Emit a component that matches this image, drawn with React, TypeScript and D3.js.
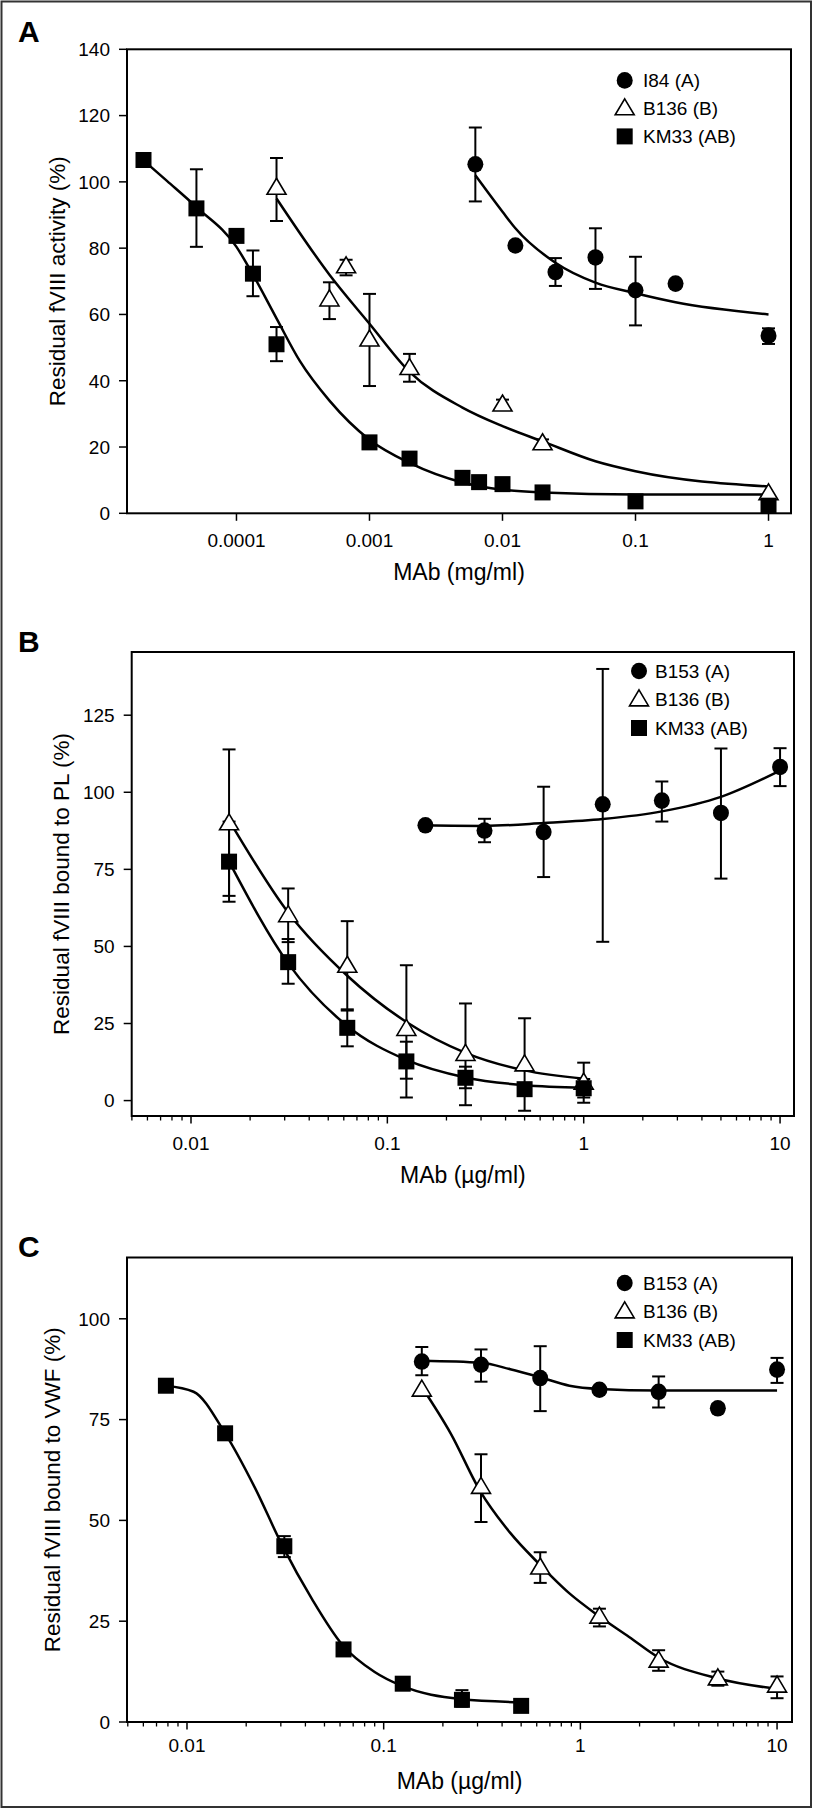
import * as d3 from 'd3';

const FONT = "'Liberation Sans', Arial, Helvetica, sans-serif";

// ---------- Panel A : residual fVIII activity (%) vs MAb (mg/ml) ----------
const aI84X = [0.00625, 0.0125, 0.025, 0.05, 0.1, 0.2, 1];
const aI84Y = [105.3, 80.8, 72.8, 77.2, 67.3, 69.3, 53.6];
const aI84Lo = [94.1, null, 68.6, 67.7, 56.7, null, 51.1];
const aI84Hi = [116.4, null, 77.0, 86.0, 77.4, null, 55.8];
const aI84FitX = [0.00625, 0.01, 0.0125, 0.025, 0.05, 0.1, 0.2, 1];
const aI84FitY = [102, 91, 86, 75.6, 69.6, 66.4, 63.7, 60];

const aB136X = [0.0002, 0.0005, 0.000667, 0.001, 0.002, 0.01, 0.02, 1];
const aB136Y = [98.2, 64.5, 74.5, 52.4, 43.8, 32.8, 21.1, 6.0];
const aB136Lo = [88.2, 58.6, 71.8, 38.4, 39.7, 31.3, 20.0, null];
const aB136Hi = [107.2, 69.7, 76.5, 66.2, 48.1, 34.3, 22.3, null];
const aB136FitX = [0.0002, 0.0005, 0.001, 0.002, 0.005, 0.01, 0.02, 0.05, 0.1, 1];
const aB136FitY = [95, 72, 57.2, 42.7, 31.9, 26.3, 21.7, 15.7, 12.7, 8.1];

const aKM33X = [0.00002, 0.00005, 0.0001, 0.000133, 0.0002, 0.001, 0.002, 0.005, 0.00667, 0.01, 0.02, 0.1, 1];
const aKM33Y = [106.6, 92.0, 83.7, 72.3, 51.0, 21.4, 16.5, 10.7, 9.4, 8.8, 6.3, 3.6, 2.3];
const aKM33Lo = [105.5, 80.4, null, 65.5, 45.9, null, null, null, null, null, null, null, null];
const aKM33Hi = [108.2, 103.8, null, 79.3, 56.2, null, null, null, null, null, null, null, null];
const aKM33FitX = [0.00002, 0.00003, 0.00005, 0.0001, 0.000133, 0.0002, 0.0003, 0.0005, 0.001, 0.002, 0.005, 0.01, 0.02, 0.1, 1];
const aKM33FitY = [106.5, 100.3, 92.4, 80.4, 72, 58.8, 45.9, 34, 22.2, 15.2, 9.3, 7.1, 6.3, 5.7, 5.7];

const aXTicks = [0.0001, 0.001, 0.01, 0.1, 1];
const aXLabels = ['0.0001', '0.001', '0.01', '0.1', '1'];
const aYTicks = [0, 20, 40, 60, 80, 100, 120, 140];

// ---------- Panel B : residual fVIII bound to PL (%) vs MAb (µg/ml) ----------
const bB153X = [0.15625, 0.3125, 0.625, 1.25, 2.5, 5, 10];
const bB153Y = [89.3, 87.6, 87.1, 96.1, 97.3, 93.3, 108.2];
const bB153Lo = [null, 83.8, 72.5, 51.5, 90.5, 72.0, 102.0];
const bB153Hi = [null, 91.4, 101.8, 140.0, 103.5, 114.2, 114.3];
const bB153FitX = [0.15625, 0.3125, 0.625, 1.25, 2.5, 5, 10];
const bB153FitY = [89.3, 89.1, 90.0, 91.3, 93.8, 98.5, 107];

const bB136X = [0.015625, 0.03125, 0.0625, 0.125, 0.25, 0.5, 1];
const bB136Y = [89.9, 60.1, 43.7, 23.2, 15.1, 11.7, 5.8];
const bB136Lo = [66.4, 51.4, 29.2, 1.0, -1.5, -3.3, -0.7];
const bB136Hi = [113.9, 68.8, 58.2, 43.9, 31.5, 26.7, 12.3];
const bB136FitX = [0.015625, 0.03125, 0.0625, 0.125, 0.25, 0.5, 1];
const bB136FitY = [90.9, 61, 40.5, 25.5, 15.5, 9.8, 7.1];

const bKM33X = [0.015625, 0.03125, 0.0625, 0.125, 0.25, 0.5, 1];
const bKM33Y = [77.5, 44.9, 23.6, 12.7, 7.4, 3.7, 4.0];
const bKM33Lo = [64.5, 37.9, 17.6, 7.1, 4.0, 2.0, 1.0];
const bKM33Hi = [90.5, 52.4, 29.6, 19.1, 11.0, 5.5, 7.0];
const bKM33FitX = [0.015625, 0.03125, 0.0625, 0.125, 0.25, 0.5, 1];
const bKM33FitY = [77.5, 44.5, 24.2, 13.2, 7.5, 5.0, 4.2];

const bXTicks = [0.01, 0.1, 1, 10];
const bXLabels = ['0.01', '0.1', '1', '10'];
const bYTicks = [0, 25, 50, 75, 100, 125];

// ---------- Panel C : residual fVIII bound to VWF (%) vs MAb (µg/ml) ----------
const cB153X = [0.15625, 0.3125, 0.625, 1.25, 2.5, 5, 10];
const cB153Y = [89.4, 88.6, 85.3, 82.4, 81.9, 77.8, 87.4];
const cB153Lo = [86.0, 84.4, 77.1, null, 78.0, 76.8, 84.1];
const cB153Hi = [93.0, 92.4, 93.2, null, 85.7, 78.8, 90.3];
const cB153FitX = [0.15625, 0.3125, 0.44, 0.625, 0.88, 1.25, 2.5, 10];
const cB153FitY = [89.6, 89.1, 87.5, 85.5, 83.4, 82.6, 82.2, 82.2];

const cB136X = [0.15625, 0.3125, 0.625, 1.25, 2.5, 5, 10];
const cB136Y = [82.4, 58.3, 38.3, 26.1, 15.2, 10.8, 9.0];
const cB136Lo = [null, 49.6, 34.5, 23.7, 12.7, 9.0, 5.9];
const cB136Hi = [null, 66.4, 42.1, 28.1, 17.8, 12.5, 11.3];
const cB136FitX = [0.15625, 0.219, 0.31, 0.44, 0.62, 0.88, 1.24, 1.77, 2.5, 5, 10];
const cB136FitY = [83.1, 71.6, 57.2, 46.9, 39.1, 31.9, 26.3, 21.1, 16.0, 10.8, 8.2];

const cKM33X = [0.0078125, 0.015625, 0.03125, 0.0625, 0.125, 0.25, 0.5];
const cKM33Y = [83.4, 71.6, 43.6, 18.0, 9.5, 5.5, 4.0];
const cKM33Lo = [null, null, 40.9, null, null, 3.8, null];
const cKM33Hi = [null, null, 46.1, null, null, 7.9, null];
const cKM33FitX = [0.0078125, 0.0108, 0.015625, 0.0221, 0.0305, 0.0433, 0.0617, 0.09, 0.123, 0.247, 0.49];
const cKM33FitY = [83.4, 81.9, 71.6, 58.2, 43.8, 30.4, 19.1, 12.4, 9.0, 5.7, 4.9];

const cXTicks = [0.01, 0.1, 1, 10];
const cXLabels = ['0.01', '0.1', '1', '10'];
const cYTicks = [0, 25, 50, 75, 100];

type Shape = 'circle' | 'triangle' | 'square';
type Series = {
  name: string; shape: Shape;
  x: number[]; y: number[]; lo: (number | null)[]; hi: (number | null)[];
  fitX: number[]; fitY: number[];
};

const panels = [
  {
    letter: 'A', letterY: 42,
    box: { left: 127, right: 791, top: 49.3, bottom: 513.3 },
    xDomain: [Math.pow(10, -4.823), Math.pow(10, 0.169)], yDomain: [0, 140],
    xTicks: aXTicks, xLabels: aXLabels, yTicks: aYTicks, minor: false,
    xTitle: 'MAb (mg/ml)', yTitle: 'Residual fVIII activity (%)', yTitleX: 57,
    tickLabelY: 547, xTitleY: 580,
    legend: { x: 624.7, textX: 643, y: 80.4, dy: 28 },
    series: [
      { name: 'I84 (A)', shape: 'circle', x: aI84X, y: aI84Y, lo: aI84Lo, hi: aI84Hi, fitX: aI84FitX, fitY: aI84FitY },
      { name: 'B136 (B)', shape: 'triangle', x: aB136X, y: aB136Y, lo: aB136Lo, hi: aB136Hi, fitX: aB136FitX, fitY: aB136FitY },
      { name: 'KM33 (AB)', shape: 'square', x: aKM33X, y: aKM33Y, lo: aKM33Lo, hi: aKM33Hi, fitX: aKM33FitX, fitY: aKM33FitY },
    ] as Series[],
  },
  {
    letter: 'B', letterY: 652,
    box: { left: 131.7, right: 794, top: 652, bottom: 1116 },
    xDomain: [Math.pow(10, -2.302), Math.pow(10, 1.071)], yDomain: [-5, 145.5],
    xTicks: bXTicks, xLabels: bXLabels, yTicks: bYTicks, minor: true,
    xTitle: 'MAb (\u00b5g/ml)', yTitle: 'Residual fVIII bound to PL (%)', yTitleX: 61,
    tickLabelY: 1150, xTitleY: 1183,
    legend: { x: 639, textX: 655, y: 671, dy: 28.5 },
    series: [
      { name: 'B153 (A)', shape: 'circle', x: bB153X, y: bB153Y, lo: bB153Lo, hi: bB153Hi, fitX: bB153FitX, fitY: bB153FitY },
      { name: 'B136 (B)', shape: 'triangle', x: bB136X, y: bB136Y, lo: bB136Lo, hi: bB136Hi, fitX: bB136FitX, fitY: bB136FitY },
      { name: 'KM33 (AB)', shape: 'square', x: bKM33X, y: bKM33Y, lo: bKM33Lo, hi: bKM33Hi, fitX: bKM33FitX, fitY: bKM33FitY },
    ] as Series[],
  },
  {
    letter: 'C', letterY: 1257,
    box: { left: 127, right: 792, top: 1257.5, bottom: 1722 },
    xDomain: [Math.pow(10, -2.305), Math.pow(10, 1.076)], yDomain: [0, 115.2],
    xTicks: cXTicks, xLabels: cXLabels, yTicks: cYTicks, minor: true,
    xTitle: 'MAb (\u00b5g/ml)', yTitle: 'Residual fVIII bound to VWF (%)', yTitleX: 52,
    tickLabelY: 1752, xTitleY: 1789,
    legend: { x: 624.7, textX: 643, y: 1283, dy: 28.5 },
    series: [
      { name: 'B153 (A)', shape: 'circle', x: cB153X, y: cB153Y, lo: cB153Lo, hi: cB153Hi, fitX: cB153FitX, fitY: cB153FitY },
      { name: 'B136 (B)', shape: 'triangle', x: cB136X, y: cB136Y, lo: cB136Lo, hi: cB136Hi, fitX: cB136FitX, fitY: cB136FitY },
      { name: 'KM33 (AB)', shape: 'square', x: cKM33X, y: cKM33Y, lo: cKM33Lo, hi: cKM33Hi, fitX: cKM33FitX, fitY: cKM33FitY },
    ] as Series[],
  },
];

function Marker({ shape, cx, cy }: { shape: Shape; cx: number; cy: number }) {
  if (shape === 'circle') return <ellipse cx={cx} cy={cy} rx={8} ry={8.3} fill="#000" />;
  if (shape === 'square') return <rect x={cx - 8} y={cy - 8} width={16} height={16} fill="#000" />;
  const w = 19, h = 16;
  return (
    <path
      d={`M${cx},${cy - h * 0.6}L${cx + w / 2},${cy + h * 0.4}L${cx - w / 2},${cy + h * 0.4}Z`}
      fill="#fff" stroke="#000" strokeWidth={1.6} strokeLinejoin="miter"
    />
  );
}

function Panel({ p }: { p: (typeof panels)[number] }) {
  const { box } = p;
  const x = d3.scaleLog().domain(p.xDomain).range([box.left, box.right]);
  const y = d3.scaleLinear().domain(p.yDomain).range([box.bottom, box.top]);
  const line = d3.line<[number, number]>()
    .x(d => x(d[0]))
    .y(d => y(d[1]))
    .curve(d3.curveMonotoneX);
  const minorTicks = p.minor
    ? x.ticks(60).filter(t => !p.xTicks.some(m => Math.abs(Math.log10(t) - Math.log10(m)) < 1e-6))
    : [];
  const yMid = (box.top + box.bottom) / 2;

  return (
    <g>
      <text x={18} y={p.letterY} fontFamily={FONT} fontWeight="bold" fontSize={30}>{p.letter}</text>

      {/* fitted curves */}
      {p.series.map(s => (
        <path key={s.name + 'fit'} d={line(s.fitX.map((v, i) => [v, s.fitY[i]]) as [number, number][]) || ''}
          fill="none" stroke="#000" strokeWidth={2.5} />
      ))}

      {/* error bars */}
      {p.series.map(s => s.x.map((v, i) => {
        const lo = s.lo[i], hi = s.hi[i];
        if (lo == null || hi == null) return null;
        const cx = x(v);
        return (
          <g key={s.name + 'err' + i} stroke="#000" strokeWidth={2}>
            <line x1={cx} x2={cx} y1={y(lo)} y2={y(hi)} />
            <line x1={cx - 6.5} x2={cx + 6.5} y1={y(lo)} y2={y(lo)} />
            <line x1={cx - 6.5} x2={cx + 6.5} y1={y(hi)} y2={y(hi)} />
          </g>
        );
      }))}

      {/* points */}
      {p.series.map(s => s.x.map((v, i) => (
        <Marker key={s.name + 'pt' + i} shape={s.shape} cx={x(v)} cy={y(s.y[i])} />
      )))}

      {/* frame */}
      <rect x={box.left} y={box.top} width={box.right - box.left} height={box.bottom - box.top}
        fill="none" stroke="#000" strokeWidth={2} />

      {/* y axis */}
      {p.yTicks.map(t => (
        <g key={'y' + t}>
          <line x1={box.left - 8} x2={box.left} y1={y(t)} y2={y(t)} stroke="#000" strokeWidth={1.5} />
          <text x={box.left - 17} y={y(t)} dy="0.36em" textAnchor="end" fontFamily={FONT} fontSize={19}>{t}</text>
        </g>
      ))}
      <text transform={`translate(${p.yTitleX},${yMid}) rotate(-90)`} dy="0.36em" textAnchor="middle"
        fontFamily={FONT} fontSize={22.5}>{p.yTitle}</text>

      {/* x axis */}
      {minorTicks.map((t, i) => (
        <line key={'mx' + i} x1={x(t)} x2={x(t)} y1={box.bottom} y2={box.bottom + 4.5} stroke="#000" strokeWidth={1.3} />
      ))}
      {p.xTicks.map((t, i) => (
        <g key={'x' + t}>
          <line x1={x(t)} x2={x(t)} y1={box.bottom} y2={box.bottom + 7.5} stroke="#000" strokeWidth={1.5} />
          <text x={x(t)} y={p.tickLabelY} textAnchor="middle" fontFamily={FONT} fontSize={19}>{p.xLabels[i]}</text>
        </g>
      ))}
      <text x={(box.left + box.right) / 2} y={p.xTitleY} textAnchor="middle" fontFamily={FONT} fontSize={23}>{p.xTitle}</text>

      {/* legend */}
      {p.series.map((s, i) => {
        const ly = p.legend.y + i * p.legend.dy;
        return (
          <g key={s.name + 'leg'}>
            <Marker shape={s.shape} cx={p.legend.x} cy={ly} />
            <text x={p.legend.textX} y={ly} dy="0.36em" fontFamily={FONT} fontSize={19}>{s.name}</text>
          </g>
        );
      })}
    </g>
  );
}

export default function App() {
  return (
    <svg width={814} height={1809} style={{ position: 'absolute', left: 0, top: 0, background: '#fff' }}>
      <rect x={0} y={0} width={814} height={1809} fill="#fff" />
      <rect x={1.5} y={1.5} width={809.5} height={1805.5} fill="none" stroke="#333" strokeWidth={2} />
      {panels.map(p => <Panel key={p.letter} p={p} />)}
    </svg>
  );
}
